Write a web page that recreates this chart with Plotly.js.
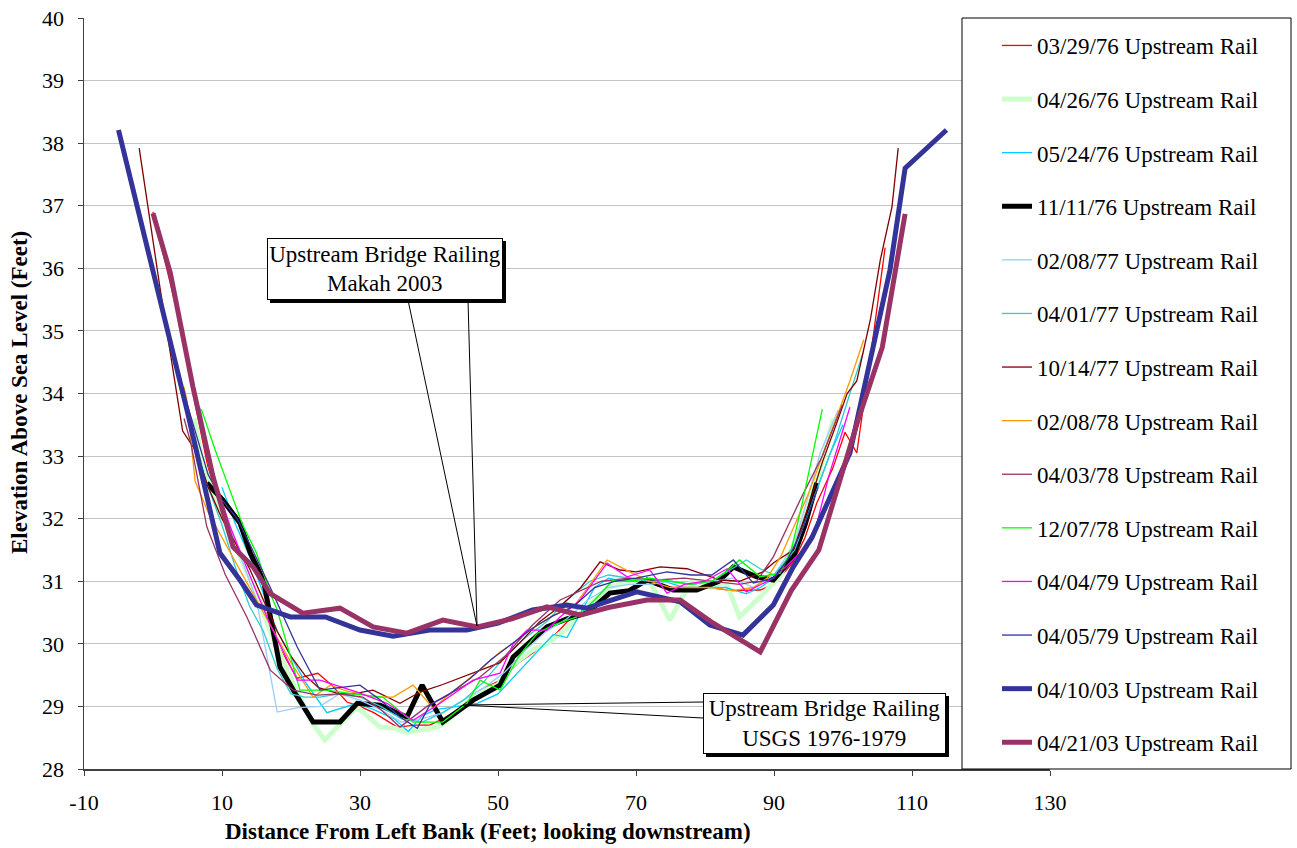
<!DOCTYPE html>
<html><head><meta charset="utf-8">
<script src="https://cdn.plot.ly/plotly-3.0.1.min.js"></script>
<style>html,body{margin:0;padding:0;background:#fff;} #chart{width:1297px;height:848px;}</style>
</head><body><div id="chart"></div>
<script>
// ---- data (distance from left bank, feet ; elevation, feet) ----
const names = ["03/29/76 Upstream Rail","04/26/76 Upstream Rail","05/24/76 Upstream Rail","11/11/76 Upstream Rail",
  "02/08/77 Upstream Rail","04/01/77 Upstream Rail","10/14/77 Upstream Rail","02/08/78 Upstream Rail",
  "04/03/78 Upstream Rail","12/07/78 Upstream Rail","04/04/79 Upstream Rail","04/05/79 Upstream Rail",
  "04/10/03 Upstream Rail","04/21/03 Upstream Rail"];

const xTickVals = [-10,10,30,50,70,90,110,130];
const xTickText = ["-10","10","30","50","70","90","110","130"];

const x_760329 = [0,2.2,3.7,5.8,8,10,12,14,16,18,20.9,23.9,25.9,28.1,30,32,35.4,38,40.1,42,45,47.4,50,53,57.1,60,63,66,69,72,75,78,81.2,84,88,90,92.8,94.5,96.2,98.5,100.3,102,104,106.1];
const y_760329 = [36.9,35.9,35.22,34.0,32.8,32.1,31.6,31.1,30.6,30.0,29.45,29.53,29.34,29.07,29.0,28.9,28.67,28.7,28.7,28.8,29.0,29.26,29.4,29.7,30.01,30.35,30.6,30.9,31.0,30.95,30.9,30.9,30.89,30.85,30.86,30.95,31.31,31.7,32.25,32.8,33.38,33.05,34.6,36.33];

const x_760426 = [6,7,9,11,13,15,17,19,21,23,24.9,26.7,29.6,32.9,35,36.8,39,41.2,43,45,47,50,52,55,57.1,60,63,66,69,72,74.9,78,81,83,85,88,91,94,96.5,98.6];
const y_760426 = [33.6,33.0,32.3,31.8,31.3,30.8,30.2,29.7,29.2,28.75,28.46,28.67,28.99,28.67,28.65,28.59,28.62,28.67,28.8,29.0,29.2,29.35,29.65,29.9,30.0,30.25,30.6,30.9,31.0,31.0,30.38,31.0,30.9,31.0,30.43,30.75,31.1,31.9,32.7,33.6];

const x_760524 = [10,12,14,16,18,20,22,25.2,28,29.6,32,35,37,39,41,44,47,50,53,56,58,60,62,64,66,68,71,74,77,80,83,86,88,90,92,94,96,98,100];
const y_760524 = [32.5,31.9,31.4,30.8,30.2,29.8,29.4,28.9,29.0,29.05,28.95,28.8,28.6,28.85,28.95,29.0,29.05,29.2,29.55,29.9,30.15,30.1,30.5,30.9,31.05,31.0,31.0,31.0,30.9,30.9,30.9,30.8,30.9,31.05,31.3,31.8,32.4,33.0,33.5];

const x_761111 = [7.8,10.1,12.6,14.1,16,18.4,20.6,23.2,27.1,29.6,32.9,36.8,39,42,46.4,50.3,52.2,55,57.1,60,63,66.2,69,71.6,75.4,78.8,82,84.1,87.5,89.9,92.8,94.5,96.2];
const y_761111 = [32.57,32.3,31.93,31.45,31.02,29.63,29.21,28.75,28.75,29.05,29.02,28.83,29.34,28.75,29.1,29.34,29.79,30.05,30.27,30.4,30.5,30.81,30.85,31.02,30.86,30.86,31.0,31.23,31.07,31.02,31.39,31.9,32.57];

const x_770208 = [6.8,9,11,13,15,18,21,24.2,27,30,33,36,39,42,45,48,51,54,57,60,63,66,69,72,75,78,81,84,87,90,93,96.7,99.3];
const y_770208 = [33.78,32.6,31.9,31.3,30.7,28.91,28.98,29.0,29.2,29.1,28.95,28.75,28.8,28.9,29.1,29.3,29.55,29.9,30.2,30.4,30.7,30.9,30.95,30.95,31.0,30.95,31.0,31.05,30.9,31.1,31.6,33.05,33.74];

const x_770401 = [5,6,8,10,12,14,16,18,20,22,24.2,27,30,33,36,39,42,45,48,51,54,57,60,63.3,66,69,72,75,78,81,84,86,88,90,93,96,99,101,102.9];
const y_770401 = [33.7,33.2,32.5,31.9,31.2,30.6,30.2,29.6,29.2,29.15,29.15,29.2,29.15,29.0,28.8,28.75,28.9,29.1,29.4,29.8,30.1,30.35,30.7,31.0,31.1,31.05,31.0,31.0,30.95,31.0,31.2,31.34,31.2,31.1,31.5,32.4,33.3,34.0,34.65];

const x_771014 = [-2,1,4.3,6.4,8,10,12,14,16,18,20,22,24,27,29,31.9,35.8,38.7,42,46.4,50.3,53,56,59,62,64.8,67.7,70,73.5,77.4,80,82.2,85,88.4,90,92.8,95,97,99,100.6,102,104,105.4,107.1,108];
const y_771014 = [37.92,35.7,33.4,33.05,32.5,32.0,31.6,31.2,30.7,30.2,29.8,29.5,29.3,29.2,29.2,29.26,29.05,29.23,29.35,29.53,29.7,30.0,30.35,30.6,30.9,31.31,31.18,31.15,31.23,31.2,31.1,31.02,31.0,31.15,31.3,31.5,32.2,32.9,33.5,34.0,34.2,35.2,36.13,36.98,37.92];

const x_780208 = [4.5,4.9,6.1,8,10,12,14,16,18,20,23.2,25.7,28,30,32,34.8,37.7,40.6,43,47,50.3,52.2,55,58,61,63,65.8,69.1,72,75,78,81,84,87,89,91,93,95,97,99,101,103];
const y_780208 = [34.1,33.9,32.6,32.1,31.7,31.3,30.9,30.5,30.1,29.7,29.15,29.34,29.25,29.2,29.15,29.15,29.34,28.97,29.2,29.55,29.87,30.01,30.25,30.45,30.6,30.9,31.34,31.15,31.0,30.9,30.9,30.9,30.85,30.9,31.05,31.4,31.9,32.4,33.0,33.6,34.2,34.86];

const x_780403 = [4.5,5.5,7.8,10.5,13.6,17,20.3,23.8,27,30.4,33,35.8,39.7,43,47.4,51,55,59,62,65,69,73,77,81,85,87.5,89.9,93.8,97,99.9];
const y_780403 = [33.6,33.2,31.87,31.1,30.43,29.58,29.26,29.18,29.2,29.15,28.95,28.67,29.0,29.2,29.47,29.8,30.3,30.7,30.85,31.0,31.05,31.02,31.05,31.0,30.95,31.0,31.39,32.3,33.0,33.82];

const x_781207 = [7,9,11,13,15,17,18,21.3,25.2,29,33.3,37.7,42,45.5,47.4,50.3,53,55.7,58,61.4,64,66.7,69,72,75,78,81,83,85,88,90.9,92.5,94,95.5,97];
const y_781207 = [33.75,33.1,32.5,31.9,31.45,30.8,30.54,29.26,29.26,29.2,29.15,28.75,28.75,29.05,29.42,29.26,29.8,30.17,30.3,30.43,30.7,31.02,31.0,31.05,31.0,30.95,31.0,31.15,31.34,31.07,31.13,31.5,32.2,33.0,33.75];

const x_790404 = [9,11.2,14,17,20.9,24.2,29.6,33.9,37.7,41.6,46.4,50.3,52.2,54.2,57.1,59,61.9,65.8,68.7,72,74.5,77,80,83.2,86,89.9,93.8,95.7,98,101];
const y_790404 = [32.6,31.87,31.1,30.3,29.42,29.42,29.23,29.05,28.78,29.05,29.42,29.53,30.0,30.22,30.22,30.43,30.7,31.29,31.07,31.18,30.81,30.95,31.0,31.2,30.83,31.05,31.45,31.7,32.7,33.78];

const x_790405 = [4.9,8,10,12.2,14,17,20.9,24.2,27,30,33,35.8,38.3,40.1,43,46,49,52,55,58,61,64,67,70,74.5,78,81,84.1,87,90,92,94,96.4];
const y_790405 = [33.85,32.7,32.3,32.0,31.6,30.9,29.95,29.26,29.3,29.34,29.1,28.83,28.65,29.02,29.2,29.45,29.75,30.0,30.25,30.45,30.6,30.9,31.0,31.05,31.15,31.1,31.1,31.34,30.97,31.05,31.35,31.8,32.5];

const x_030410 = [-5,5,9.7,12.6,15,19.9,25,30,34.8,40.1,45.5,50,55,60,62.9,70.1,76.4,80.7,85.5,89.9,92.8,95.5,101,106.8,109,115];
const y_030410 = [38.21,33.7,31.45,31.02,30.62,30.43,30.43,30.22,30.12,30.22,30.22,30.33,30.54,30.62,30.57,30.83,30.67,30.3,30.14,30.62,31.23,31.7,33.05,35.97,37.6,38.21];

const x_030421 = [0,2.5,5.8,8.7,11.6,14.5,17,21.7,27.1,31.9,36.8,42,47,52,57.1,61.9,66,71.6,76.4,81.2,88,92.5,96.5,102.2,105.7,109];
const y_030421 = [36.88,35.93,34.1,32.67,31.55,31.23,30.8,30.49,30.57,30.27,30.17,30.38,30.27,30.4,30.59,30.46,30.58,30.7,30.7,30.33,29.87,30.85,31.5,33.58,34.74,36.87];

const xs = [x_760329,x_760426,x_760524,x_761111,x_770208,x_770401,x_771014,x_780208,x_780403,x_781207,x_790404,x_790405,x_030410,x_030421];
const ys = [y_760329,y_760426,y_760524,y_761111,y_770208,y_770401,y_771014,y_780208,y_780403,y_781207,y_790404,y_790405,y_030410,y_030421];
const colors = ["#FF0000","#CCFFCC","#00CCFF","#000000","#99CCFF","#33CCCC","#800000","#FF9900","#993366","#00FF00","#FF00FF","#333399","#333399","#993366"];
const widths = [1.3,5,1.3,5,1.3,1.3,1.3,1.3,1.3,1.3,1.3,1.3,5,5];

const FONT = "Liberation Serif, Times New Roman, serif";

const traces = names.map((n,i)=>({
  type:'scatter', mode:'lines', name:n, x:xs[i], y:ys[i],
  line:{color:colors[i], width:widths[i]}, legendgroup:'g'+i, showlegend:true
}));

// pixel helpers for layout-only items (boxes)
const px = v => (v-84)/966;      // page px -> paper x
const py = v => (769-v)/751;     // page px -> paper y

const layout = {
  width:1297, height:848, autosize:false,
  margin:{l:84, r:247, t:18, b:79},
  paper_bgcolor:'#fff', plot_bgcolor:'#fff',
  font:{family:FONT, color:'#000'},
  showlegend:true,
  legend:{x:px(997), y:py(24), xanchor:'left', yanchor:'top', bgcolor:'rgba(0,0,0,0)', borderwidth:0,
          font:{family:FONT, size:23, color:'#000'}, traceorder:'grouped', tracegroupgap:20.7},
  xaxis:{range:[-10,130], tickmode:'array', tickvals:xTickVals, ticktext:xTickText, showgrid:false, zeroline:false, showline:true,
         linecolor:'#404040', linewidth:1.5, ticks:'outside', ticklen:5, tickcolor:'#404040',
         tickfont:{family:FONT, size:22, color:'#000'}, ticklabelstandoff:8},
  yaxis:{range:[28,40], dtick:1, showgrid:true, gridcolor:'#c4c4c4', gridwidth:1, zeroline:false, showline:true,
         linecolor:'#404040', linewidth:1.5, ticks:'outside', ticklen:5, tickcolor:'#404040',
         tickfont:{family:FONT, size:22, color:'#000'}, ticklabelstandoff:9},
  shapes:[
    // legend frame
    {type:'rect', xref:'paper', yref:'paper', x0:px(962), x1:px(1291), y0:py(769), y1:py(18),
     line:{color:'#000', width:1}, fillcolor:'#fff', layer:'above'},
    // callout lines (Makah 2003)
    {type:'line', xref:'paper', yref:'paper', x0:px(408), y0:py(300), x1:px(477), y1:py(626), line:{color:'#000', width:1}, layer:'above'},
    {type:'line', xref:'paper', yref:'paper', x0:px(468), y0:py(300), x1:px(477), y1:py(626), line:{color:'#000', width:1}, layer:'above'},
    // callout lines (USGS)
    {type:'line', xref:'paper', yref:'paper', x0:px(703), y0:py(702), x1:px(463), y1:py(705), line:{color:'#000', width:1}, layer:'above'},
    {type:'line', xref:'paper', yref:'paper', x0:px(703), y0:py(718), x1:px(463), y1:py(705), line:{color:'#000', width:1}, layer:'above'},
    // box shadows
    {type:'rect', xref:'paper', yref:'paper', x0:px(270), x1:px(506), y0:py(303), y1:py(241), fillcolor:'#000', line:{width:0}, layer:'above'},
    {type:'rect', xref:'paper', yref:'paper', x0:px(706), x1:px(949), y0:py(757), y1:py(696), fillcolor:'#000', line:{width:0}, layer:'above'}
  ],
  annotations:[
    {xref:'paper', yref:'paper', x:px(385), y:py(269), xanchor:'center', yanchor:'middle', showarrow:false,
     text:'Upstream Bridge Railing<br>Makah 2003', font:{family:FONT, size:23, color:'#000'},
     bgcolor:'#fff', bordercolor:'#000', borderwidth:1, borderpad:0, width:234, height:60},
    {xref:'paper', yref:'paper', x:px(824.5), y:py(723.5), xanchor:'center', yanchor:'middle', showarrow:false,
     text:'Upstream Bridge Railing<br>USGS 1976-1979', font:{family:FONT, size:23, color:'#000'},
     bgcolor:'#fff', bordercolor:'#000', borderwidth:1, borderpad:0, width:241, height:59},
    {xref:'paper', yref:'paper', x:px(487.5), y:py(831), xanchor:'center', yanchor:'middle', showarrow:false,
     text:'Distance From Left Bank (Feet; looking downstream)', font:{family:FONT, size:23, color:'#000', weight:'bold'}},
    {xref:'paper', yref:'paper', x:px(20), y:py(393), xanchor:'center', yanchor:'middle', showarrow:false, textangle:-90,
     text:'Elevation Above Sea Level (Feet)', font:{family:FONT, size:23, color:'#000', weight:'bold'}}
  ]
};

Plotly.newPlot('chart', traces, layout, {displayModeBar:false, staticPlot:true});
</script></body></html>
